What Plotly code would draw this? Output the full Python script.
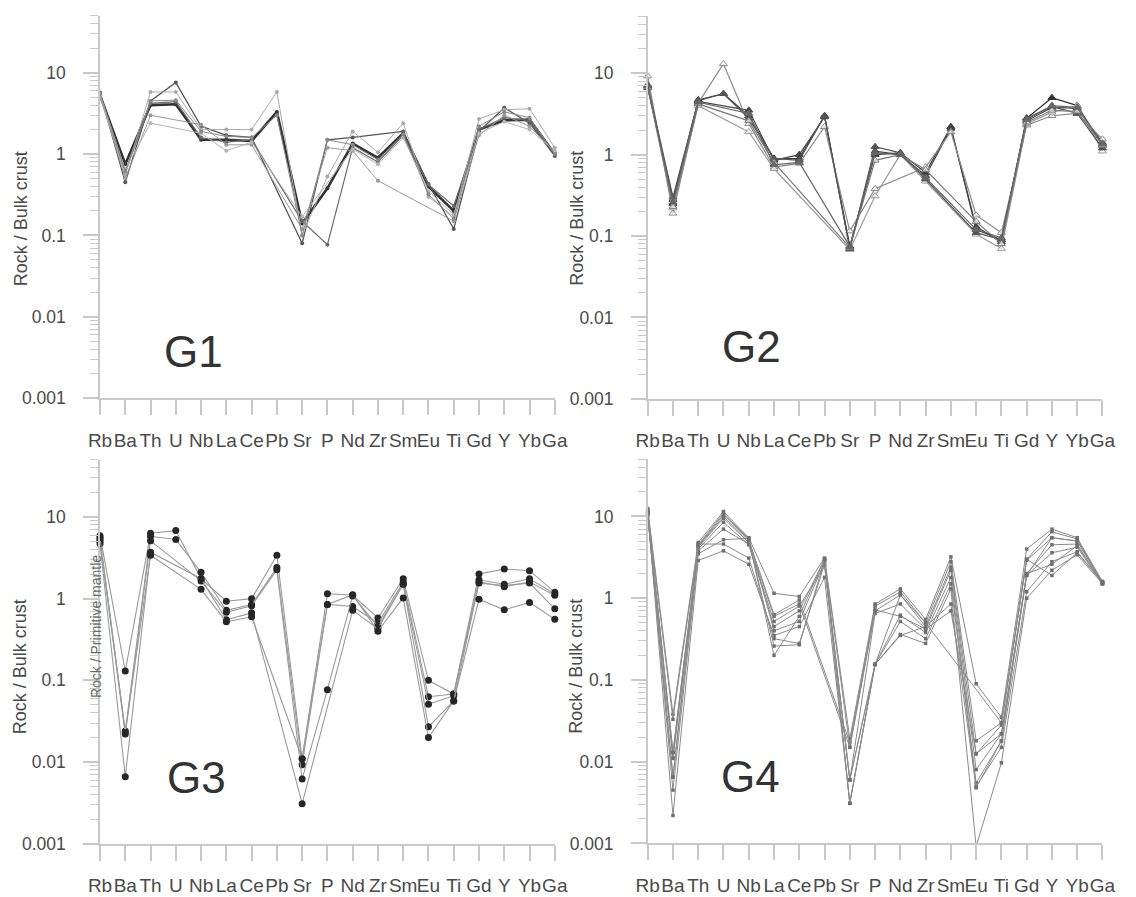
import plotly.graph_objects as go

elements = ["Rb", "Ba", "Th", "U", "Nb", "La", "Ce", "Pb", "Sr", "P",
            "Nd", "Zr", "Sm", "Eu", "Ti", "Gd", "Y", "Yb", "Ga"]
panel_names = ["G1", "G2", "G3", "G4"]
y_title = "Rock / Bulk crust"
overlay_title = "Rock / Primitive mantle"
y_tick_vals = [0.001, 0.01, 0.1, 1, 10]
y_tick_text = ["0.001", "0.01", "0.1", "1", "10"]

# ---- G1 samples (Rock / Bulk crust) ----
g1_a = [5.3, 0.75, 4.0, 4.1, 1.5, 1.5, 1.45, 3.3, 0.14, 0.38, 1.35, 0.9, 1.8, 0.4, 0.2, 2.0, 2.6, 2.65, 1.0]
g1_b = [5.7, 0.45, 4.5, 7.6, 2.2, 1.7, 1.6, None, 0.08, 1.5, 1.6, None, 1.9, 0.43, 0.12, 1.9, 3.7, 2.4, 0.95]
g1_c = [5.5, 0.6, 4.2, 4.4, 1.6, 1.4, 1.5, None, 0.15, 0.077, 1.2, 0.8, 1.7, 0.42, 0.23, 2.0, 2.8, 2.6, 1.0]
g1_d = [5.0, 0.55, 5.8, 5.8, 2.0, 2.0, 2.0, 5.8, 0.1, 0.53, 1.9, 1.05, 2.4, 0.3, 0.17, 2.7, 3.5, 3.6, 1.2]
g1_e = [5.4, 0.5, 3.0, None, 2.3, 1.3, 1.3, None, 0.12, 1.2, 1.1, 0.47, None, None, 0.15, 1.7, 3.0, 2.2, 1.05]
g1_f = [5.2, 0.65, 2.4, None, 1.8, 1.1, 1.4, None, 0.17, None, 1.15, 0.75, 1.6, 0.35, 0.18, 1.8, 2.5, 2.0, 1.1]
g1_g = [5.6, 0.62, 4.5, 4.6, 1.9, 1.65, 1.6, 3.0, 0.1, 1.5, 1.3, 0.85, 1.75, 0.32, 0.16, 2.2, 3.3, 2.8, 1.0]

# ---- G2 samples ----
g2_a = [7.0, 0.25, 4.7, 5.6, 3.0, 0.88, 0.9, 3.0, 0.075, 1.0, 1.05, 0.6, 2.2, 0.12, 0.09, 2.8, 5.0, 4.0, 1.3]
g2_b = [6.6, 0.28, 4.5, None, 3.5, 0.85, 1.0, 2.9, 0.07, 1.1, 1.0, 0.55, 2.1, 0.13, 0.085, 2.6, 3.8, 3.7, 1.4]
g2_c = [9.2, 0.19, 4.3, 13.0, 2.4, 0.7, 0.78, 2.2, 0.115, 0.38, None, 0.7, 1.9, 0.18, 0.11, 2.3, 3.0, 3.2, 1.55]
g2_d = [6.8, 0.22, 4.0, None, 1.9, 0.67, None, None, 0.068, 0.31, 1.0, 0.47, None, 0.105, 0.07, 2.4, 3.3, 4.0, 1.1]
g2_e = [7.2, 0.3, 4.6, 5.6, 2.8, 0.9, 0.85, 3.0, 0.07, 1.25, 1.05, 0.5, None, 0.11, 0.09, 2.8, 3.9, 3.2, 1.2]
g2_f = [6.9, 0.23, 4.2, None, 2.6, 0.8, None, None, 0.072, 0.85, 1.0, 0.65, None, 0.15, 0.08, 2.5, 3.5, 3.4, 1.3]
g2_g = [7.0, 0.26, 4.4, None, 3.2, 0.75, 0.8, None, 0.074, 1.05, 1.0, 0.52, None, 0.12, 0.095, 2.7, 4.0, 3.8, 1.35]

# ---- G3 samples ----
g3_a = [5.9, 0.13, 6.3, 6.8, 1.75, 0.93, 1.0, 3.4, 0.011, 1.15, 1.1, 0.58, 1.75, 0.1, 0.068, 2.0, 2.3, 2.2, 1.2]
g3_b = [5.3, 0.024, 5.8, 5.3, 2.1, 0.72, 0.85, 2.4, 0.0093, 0.85, 0.8, 0.5, 1.6, 0.063, 0.068, 1.7, 1.5, 1.75, 1.15]
g3_c = [5.0, 0.022, 5.1, None, 1.65, 0.68, 0.82, 2.25, 0.0062, 0.077, 1.08, 0.46, 1.5, 0.051, 0.065, 1.6, 1.4, 1.6, 1.1]
g3_d = [4.7, 0.0066, 3.7, None, 1.75, 0.55, 0.67, None, 0.0031, None, 0.72, 0.43, 1.5, 0.027, 0.056, 1.55, 1.45, 1.55, 0.75]
g3_e = [5.6, 0.023, 3.4, None, 1.3, 0.52, 0.6, None, 0.011, 0.85, 1.12, 0.4, 1.02, 0.02, 0.056, 0.98, 0.73, 0.9, 0.56]

# ---- G4 samples ----
g4_a = [12.5, 0.038, 4.8, 11.5, 5.5, 1.15, 1.05, 3.1, 0.019, 0.85, 1.3, 0.55, 3.2, 0.09, 0.035, 4.0, 7.0, 5.5, 1.6]
g4_b = [11.5, 0.033, 4.4, 10.5, 5.2, 0.63, 0.95, None, 0.017, 0.8, 1.2, 0.5, 2.8, 0.018, 0.03, 3.0, 6.5, 5.3, 1.55]
g4_c = [11.0, 0.013, 4.2, 9.5, 4.8, 0.6, 0.85, None, 0.015, 0.7, 1.1, 0.45, 2.4, 0.0125, 0.028, 2.9, 5.5, 5.0, 1.55]
g4_d = [10.8, 0.011, 4.0, 8.5, 4.5, 0.52, 0.8, 2.5, 0.006, 0.65, 0.85, 0.42, 2.2, 0.008, 0.022, 2.0, 4.5, 4.6, 1.5]
g4_e = [10.5, 0.0065, 3.8, 7.0, 4.6, 0.45, 0.7, 3.0, 0.0031, 0.155, 0.62, 0.38, 1.8, 0.0055, 0.018, 1.9, 3.6, 4.2, 1.5]
g4_f = [11.0, 0.0045, 3.5, 5.2, 5.4, 0.4, 0.52, 2.8, 0.0031, 0.155, 0.52, 0.32, 1.5, 0.005, 0.015, 1.2, 2.8, 3.7, 1.55]
g4_g = [12.0, 0.0022, 2.9, 3.8, 2.6, 0.35, 0.45, 1.8, 0.0031, 0.155, 0.36, 0.28, 1.3, 0.00092, 0.0097, 1.0, 2.2, 3.4, 1.5]
g4_h = [10.2, 0.0065, 4.6, 4.6, 3.1, 0.32, 0.28, 2.6, 0.006, 0.155, 0.35, 0.45, 0.85, 0.0048, 0.018, 2.0, 2.6, 4.4, 1.55]
g4_i = [11.2, 0.011, 4.3, 10.0, 5.0, 0.26, 0.27, 2.9, 0.006, 0.155, 1.1, 0.5, None, None, 0.03, 3.0, 1.9, 3.6, 1.55]
g4_j = [11.8, 0.013, 4.5, 11.0, 5.3, 0.2, 0.6, 3.0, 0.015, 0.72, 0.6, 0.42, 0.7, 0.0125, 0.022, 1.9, 5.5, 5.0, 1.6]

g1 = [g1_a, g1_b, g1_c, g1_d, g1_e, g1_f, g1_g]
g2 = [g2_a, g2_b, g2_c, g2_d, g2_e, g2_f, g2_g]
g3 = [g3_a, g3_b, g3_c, g3_d, g3_e]
g4 = [g4_a, g4_b, g4_c, g4_d, g4_e, g4_f, g4_g, g4_h, g4_i, g4_j]

# ---- styles ----
g1_colors = ["#333333", "#555555", "#6a6a6a", "#aaaaaa", "#999999", "#b5b5b5", "#888888"]
g1_widths = [2.6, 1.3, 1.2, 1.0, 1.0, 1.0, 1.0]
g2_colors = ["#333333", "#444444", "#8a8a8a", "#9a9a9a", "#555555", "#7a7a7a", "#666666"]
g2_filled = [True, True, False, False, True, False, True]

FONT = "Liberation Sans, Arial, sans-serif"
AXC = "#c8c8c8"
TXT = "#4a4a4a"

x_idx = list(range(len(elements)))
minor_vals = [m * 10 ** e for e in range(-3, 2) for m in range(2, 10) if m * 10 ** e <= 50]

fig = go.Figure()

xdom = [[90 / 1136, 555 / 1136], [650 / 1136, 1115 / 1136],
        [90 / 1136, 555 / 1136], [650 / 1136, 1115 / 1136]]
ydom = [[1 - 402.7 / 897, 1 - 16 / 897], [1 - 403.3 / 897, 1 - 16.5 / 897],
        [1 - 853.3 / 897, 1 - 465 / 897], [1 - 853 / 897, 1 - 464.5 / 897]]

for p in range(4):
    xa = "x" if p == 0 else f"x{p+1}"
    ya = "y" if p == 0 else f"y{p+1}"
    if p == 0:
        for s, vals in enumerate(g1):
            fig.add_trace(go.Scatter(
                x=x_idx, y=vals, xaxis=xa, yaxis=ya, mode="lines+markers",
                connectgaps=True, cliponaxis=False,
                line=dict(color=g1_colors[s], width=g1_widths[s]),
                marker=dict(symbol="circle", size=4, color=g1_colors[s])))
    elif p == 1:
        for s, vals in enumerate(g2):
            c = g2_colors[s]
            fig.add_trace(go.Scatter(
                x=x_idx, y=vals, xaxis=xa, yaxis=ya, mode="lines+markers",
                connectgaps=True, cliponaxis=False,
                line=dict(color=c, width=1.2),
                marker=dict(symbol="triangle-up", size=7,
                            color=c if g2_filled[s] else "rgba(255,255,255,0.6)",
                            line=dict(color=c, width=1))))
    elif p == 2:
        for s, vals in enumerate(g3):
            fig.add_trace(go.Scatter(
                x=x_idx, y=vals, xaxis=xa, yaxis=ya, mode="lines+markers",
                connectgaps=True, cliponaxis=False,
                line=dict(color="#9a9a9a", width=1.1),
                marker=dict(symbol="circle", size=7, color="#262626")))
    else:
        for s, vals in enumerate(g4):
            fig.add_trace(go.Scatter(
                x=x_idx, y=vals, xaxis=xa, yaxis=ya, mode="lines+markers",
                connectgaps=True, cliponaxis=False,
                line=dict(color="#8a8a8a", width=1.0),
                marker=dict(symbol="square", size=3.5, color="#707070")))

layout = dict(
    width=1136, height=897, margin=dict(l=0, r=0, t=0, b=0),
    paper_bgcolor="white", plot_bgcolor="white", showlegend=False,
    font=dict(family=FONT, color=TXT, size=17),
)
for p in range(4):
    xk = "xaxis" if p == 0 else f"xaxis{p+1}"
    yk = "yaxis" if p == 0 else f"yaxis{p+1}"
    ya = "y" if p == 0 else f"y{p+1}"
    xa = "x" if p == 0 else f"x{p+1}"
    layout[xk] = dict(
        domain=xdom[p], anchor=ya, range=[0, 18], tickmode="array",
        tickvals=x_idx, ticktext=elements, ticks="outside", ticklen=15,
        tickcolor=AXC, tickwidth=1.5, showline=True, linecolor=AXC,
        linewidth=1.5, showgrid=False, zeroline=False, ticklabelstandoff=9,
        tickangle=0,
        tickfont=dict(size=19, color=TXT, family=FONT), fixedrange=True)
    layout[yk] = dict(
        domain=ydom[p], anchor=xa, type="log", range=[-3, 1.699],
        tickmode="array", tickvals=y_tick_vals, ticktext=y_tick_text,
        ticks="outside", ticklen=15, tickcolor=AXC, tickwidth=1.5,
        showline=True, linecolor=AXC, linewidth=1.5, showgrid=False,
        zeroline=False, ticklabelstandoff=14,
        tickfont=dict(size=17.5, color=TXT, family=FONT),
        minor=dict(ticks="outside", ticklen=8, tickcolor=AXC, tickwidth=1.2,
                   tickmode="array", tickvals=minor_vals, showgrid=False),
        fixedrange=True)
fig.update_layout(**layout)

# y-axis titles
title_pos = [(9, 221), (577, 221), (9, 674), (577, 674)]
for (px, py) in title_pos:
    fig.add_annotation(text=y_title, xref="paper", yref="paper",
                       x=px / 1136, y=1 - py / 897, showarrow=False,
                       textangle=-90, xanchor="center", yanchor="middle",
                       font=dict(size=18, color=TXT, family=FONT))

# stray overlay title in G3
fig.add_annotation(text=overlay_title, xref="paper", yref="paper",
                   x=86 / 1136, y=1 - 634 / 897, showarrow=False,
                   textangle=-90, xanchor="center", yanchor="middle",
                   font=dict(size=14, color="#6a6a6a", family=FONT))

# panel labels
label_pos = [(3.7, -2.42), (4.1, -2.36), (3.8, -2.19), (4.05, -2.18)]
for p, (lx, ly) in enumerate(label_pos):
    xa = "x" if p == 0 else f"x{p+1}"
    ya = "y" if p == 0 else f"y{p+1}"
    fig.add_annotation(text=panel_names[p], xref=xa, yref=ya, x=lx, y=ly,
                       showarrow=False, xanchor="center", yanchor="middle",
                       font=dict(size=44, color="#333333", family=FONT))

fig.write_html("out.html")
